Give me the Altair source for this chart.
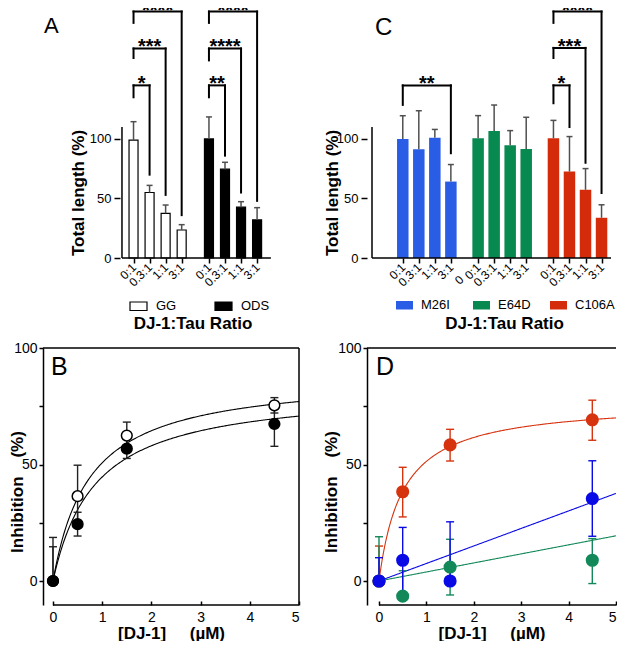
import json
import altair as alt
import pandas as pd

FONT = "Liberation Sans"

# ---------------- panel A : total length, GG vs ODS ----------------
ratio_labels = ["0:1", "0.3:1", "1:1", "3:1"]
a_groups = ["GG", "ODS"]
a_gg_mean = [99.0, 55.0, 37.5, 23.5]
a_gg_err = [114.5, 61.0, 44.5, 28.0]
a_ods_mean = [100.0, 74.6, 42.7, 32.0]
a_ods_err = [118.5, 80.4, 47.3, 42.3]
a_sig_group = ["GG", "GG", "GG", "ODS", "ODS", "ODS"]
a_sig_to = [1, 2, 3, 1, 2, 3]
a_sig_level = [145, 176, 207, 145, 176, 207]
a_sig_left_end = [135, 168, 197.5, 135, 166, 197.5]
a_sig_right_end = [70, 53, 36, 86, 55, 48]
a_sig_stars = ["*", "***", "****", "**", "****", "****"]

# ---------------- panel C : total length, mutants ----------------
c_groups = ["M26I", "E64D", "C106A"]
c_colors = ["#2a5de6", "#07894f", "#d42c0a"]
c_m26i_mean = [100.0, 91.4, 101.0, 64.2]
c_m26i_err = [119.5, 123.7, 108.0, 78.5]
c_e64d_mean = [100.6, 106.7, 94.7, 91.6]
c_e64d_err = [119.6, 128.5, 107.0, 118.2]
c_c106a_mean = [100.6, 72.6, 57.3, 33.8]
c_c106a_err = [115.6, 102.0, 75.1, 44.7]
c_sig_group = ["M26I", "C106A", "C106A", "C106A"]
c_sig_to = [3, 1, 2, 3]
c_sig_level = [145, 145, 176.5, 207]
c_sig_left_end = [128.6, 130, 168, 197.5]
c_sig_right_end = [88, 110, 80, 54.6]
c_sig_stars = ["**", "*", "***", "****"]
c_stray_text = "0"

# ---------------- panel B : inhibition, GG (open) / ODS (filled) ----------------
conc = [0, 0.5, 1.5, 4.5]
b_gg_y = [0, 36.4, 62.4, 75.4]
b_gg_lo = [0, 23.1, 56.6, 72.1]
b_gg_hi = [14.7, 49.7, 68.2, 78.7]
b_ods_y = [0, 24.4, 56.8, 67.4]
b_ods_lo = [0, 19.3, 52.6, 57.8]
b_ods_hi = [18.7, 29.5, 61.0, 77.0]
b_gg_fit = (88.5, 0.745)    # Bmax, Kd
b_ods_fit = (82.9, 0.857)

# ---------------- panel D : inhibition, mutants ----------------
d_series = ["C106A", "M26I", "E64D"]
d_colors = ["#d6330f", "#0a0ae6", "#13895a"]
d_c106a_y = [0, 38.3, 58.4, 69.2]
d_c106a_lo = [0, 27.5, 51.5, 60.4]
d_c106a_hi = [15, 48.8, 65.1, 77.6]
d_m26i_y = [0, 8.9, 0, 35.4]
d_m26i_lo = [0, -5, 0, 19.2]
d_m26i_hi = [10, 23, 25.4, 51.6]
d_e64d_y = [0, -6.5, 6, 8.9]
d_e64d_lo = [0, -6.5, -6, -1.1]
d_e64d_hi = [19, 4.4, 17.9, 18.2]
d_c106a_fit = (77.0, 0.5)   # Bmax, Kd
d_m26i_slope = 7.52
d_e64d_slope = 3.88

# ---------------- layout ----------------
A_W, C_W = 256, 249
TOP_H, BOT_H = 250, 257
GSTEP = 4.7
TOP_YDOM = [0, 210]
BOT_YDOM = [-10.3, 100]


def pos(gi, i):
    return round(gi * GSTEP + i, 2)


def title_style(**kw):
    base = dict(titleFontSize=17, titleFontWeight="bold", titleFont=FONT,
                titleColor="black", titleBaseline="middle", titleAlign="center")
    base.update(kw)
    return base


def bar_panel(key, groups, means, errs, fill_range, bar_stroke, bar_w,
              sig_group, sig_to, sig_level, sig_left, sig_right, sig_stars,
              width, xdom, axis_x, base_end, xtitle_x, ytitle_x,
              legend_x, legend_cols, legend_pad, letter, letter_x, letter_y,
              letter_size, extra=None):
    rows = []
    for gi, g in enumerate(groups):
        for i, lab in enumerate(ratio_labels):
            rows.append(dict(x=pos(gi, i), y=means[gi][i], top=errs[gi][i],
                             **{key: g}, ratio=lab))
    df = pd.DataFrame(rows)
    positions = list(df["x"])
    labels = list(df["ratio"])
    px_per = width / (xdom[1] - xdom[0])
    yoff = -round((axis_x - xdom[0]) * px_per, 1)

    xscale = alt.Scale(domain=xdom, nice=False, zero=False)
    yscale = alt.Scale(domain=TOP_YDOM, nice=False, zero=False)
    xaxis = alt.Axis(values=positions,
                     labelExpr=f"{json.dumps(labels)}[indexof({json.dumps(positions)}, datum.value)]",
                     labelAngle=315, labelAlign="right", labelBaseline="middle",
                     labelOverlap=False, labelBound=False,
                     labelFontSize=12, labelPadding=2, tickSize=5, domain=False,
                     grid=False, title="DJ-1:Tau Ratio",
                     **title_style(titleX=xtitle_x, titleY=65))
    yaxis = alt.Axis(values=[0, 50, 100], offset=yoff, domain=False, tickSize=6,
                     labelPadding=3, labelFontSize=13, grid=False,
                     title="Total length (%)",
                     **title_style(titleX=ytitle_x, titleY=184.5, titleAngle=270))

    def X(f="x"):
        return alt.X(f"{f}:Q", scale=xscale, axis=xaxis)

    def Y(f="y"):
        return alt.Y(f"{f}:Q", scale=yscale, axis=yaxis)

    legend = alt.Legend(orient="none", legendX=legend_x, legendY=288.5,
                        direction="horizontal", title=None, columns=legend_cols,
                        columnPadding=legend_pad, gridAlign="all", padding=0,
                        symbolType="M-1,-0.5H1V0.5H-1Z", symbolSize=289,
                        symbolStrokeColor="black" if bar_stroke else "transparent",
                        symbolStrokeWidth=1.2 if bar_stroke else 0,
                        symbolOpacity=1,
                        labelFontSize=13, labelFont=FONT, labelColor="black",
                        labelOffset=8)

    bar_kw = dict(orient="vertical", width=bar_w, opacity=1)
    if bar_stroke:
        bar_kw.update(stroke="black", strokeWidth=1.2)
    bars = alt.Chart(df).mark_bar(**bar_kw).encode(
        x=X(), y=Y(),
        fill=alt.Fill(f"{key}:N", scale=alt.Scale(domain=groups, range=fill_range),
                      legend=legend))
    err = alt.Chart(df).mark_rule(color="#505050", strokeWidth=1.5).encode(
        x=X(), y=Y(), y2=alt.Y2("top:Q"))
    caps = alt.Chart(df).mark_tick(orient="horizontal", color="#505050", size=6,
                                   thickness=1.5, opacity=1).encode(x=X(), y=Y("top"))

    # axis lines
    frame = pd.DataFrame([
        dict(x=axis_x, x2=axis_x, y=0, y2=110),
        dict(x=axis_x, x2=base_end, y=0, y2=0),
    ])
    axis_lines = alt.Chart(frame).mark_rule(color="black", strokeWidth=1.5).encode(
        x=X(), x2=alt.X2("x2:Q"), y=Y(), y2=alt.Y2("y2:Q"))

    # significance brackets
    segs, stars = [], []
    for g, t, lv, le, re, s in zip(sig_group, sig_to, sig_level, sig_left,
                                   sig_right, sig_stars):
        gi = groups.index(g)
        x0, x1 = pos(gi, 0), pos(gi, t)
        segs += [dict(x=x0, x2=x1, y=lv, y2=lv),
                 dict(x=x0, x2=x0, y=lv, y2=le),
                 dict(x=x1, x2=x1, y=lv, y2=re)]
        stars.append(dict(x=(x0 + x1) / 2, y=lv, s=s))
    br = alt.Chart(pd.DataFrame(segs)).mark_rule(
        color="black", strokeWidth=2, strokeCap="square", clip=True).encode(
        x=X(), x2=alt.X2("x2:Q"), y=Y(), y2=alt.Y2("y2:Q"))
    st = alt.Chart(pd.DataFrame(stars)).mark_text(
        fontSize=20, fontWeight="bold", font=FONT, baseline="alphabetic",
        dy=5, color="black", clip=True).encode(x=X(), y=Y(), text="s:N")

    let = alt.Chart(pd.DataFrame({"t": [letter]})).mark_text(
        align="left", baseline="alphabetic", fontSize=letter_size, font=FONT,
        color="black").encode(text="t:N", x=alt.value(letter_x), y=alt.value(letter_y))

    layers = [bars, err, caps, axis_lines, br, st, let]
    if extra is not None:
        ex = alt.Chart(pd.DataFrame([extra])).mark_text(
            angle=315, fontSize=12, font=FONT, color="black").encode(
            x=X(), y=Y(), text="t:N")
        layers.append(ex)
    return alt.layer(*layers).properties(width=width, height=TOP_H)


chart_a = bar_panel(
    "protein_a", a_groups, [a_gg_mean, a_ods_mean], [a_gg_err, a_ods_err],
    ["white", "black"],
    True, 9, a_sig_group, a_sig_to, a_sig_level, a_sig_left_end, a_sig_right_end,
    a_sig_stars, A_W, [-5.33, 10.0], -0.72, 8.56, 149.5, -42,
    86, 2, 27, "A", 1, 25, 22)

chart_c = bar_panel(
    "protein_c", c_groups, [c_m26i_mean, c_e64d_mean, c_c106a_mean],
    [c_m26i_err, c_e64d_err, c_c106a_err], c_colors, False, 11.5,
    c_sig_group, c_sig_to, c_sig_level, c_sig_left_end, c_sig_right_end,
    c_sig_stars, C_W, [-1.92, 12.99], -1.92, 12.99, 137, -34.5,
    29, 3, 12, "C", 8, 27, 24,
    extra=dict(x=pos(0, 3) + 0.53, y=-18.5, t=c_stray_text))


def curve_panel(series, width, xdom, ytitle_x, letter, letter_x, right_border):
    xscale = alt.Scale(domain=xdom, nice=False, zero=False)
    yscale = alt.Scale(domain=BOT_YDOM, nice=False, zero=False)
    xaxis = alt.Axis(values=[0, 1, 2, 3, 4, 5], format="d", offset=-4, domain=False,
                     tickSize=4, labelPadding=5, labelFontSize=14, grid=False,
                     title="[DJ-1]\u00a0\u00a0\u00a0\u00a0\u00a0(\u00b5M)",
                     **title_style(titleY=32))
    yaxis = alt.Axis(values=[0, 25, 50, 75, 100],
                     labelExpr="datum.value % 50 == 0 ? datum.label : ''",
                     domain=True, tickSize=4, labelPadding=2, labelFontSize=14,
                     grid=False, title="Inhibition\u00a0\u00a0\u00a0\u00a0(%)",
                     **title_style(titleX=ytitle_x, titleY=143.5, titleAngle=270))

    def X(f="x"):
        return alt.X(f"{f}:Q", scale=xscale, axis=xaxis)

    def Y(f="y"):
        return alt.Y(f"{f}:Q", scale=yscale, axis=yaxis)

    layers = []
    # fitted curves
    for s in series:
        expr = s["fit"]
        layers.append(
            alt.Chart(alt.sequence(0, 5.001, 0.02, as_="x"))
            .transform_calculate(y=expr)
            .mark_line(color=s["line"], strokeWidth=1.1, clip=True)
            .encode(x=X(), y=Y()))
    # error bars
    for s in series:
        df = pd.DataFrame(dict(x=conc, y=s["y"], lo=s["lo"], hi=s["hi"]))
        layers.append(alt.Chart(df).mark_rule(color=s["err"], strokeWidth=1.4).encode(
            x=X(), y=Y("lo"), y2=alt.Y2("hi:Q")))
        caps = pd.DataFrame(dict(x=conc + conc, y=s["lo"] + s["hi"]))
        layers.append(alt.Chart(caps).mark_tick(
            orient="horizontal", color=s["err"], size=8, thickness=1.4,
            opacity=1).encode(x=X(), y=Y()))
    # points
    for s in series:
        df = pd.DataFrame(dict(x=conc, y=s["y"]))
        layers.append(alt.Chart(df).mark_point(
            shape="circle", filled=True, fill=s["fill"], stroke=s["stroke"],
            strokeWidth=1.5, size=s["size"], opacity=1).encode(x=X(), y=Y()))
    # frame
    layers.append(alt.Chart(pd.DataFrame({"a": [0]})).mark_rule(
        color="black", strokeWidth=1.5).encode(y=alt.value(0)))
    if right_border:
        layers.append(alt.Chart(pd.DataFrame({"a": [0]})).mark_rule(
            color="black", strokeWidth=1.5).encode(x=alt.value(width)))
    layers.append(alt.Chart(pd.DataFrame({"x": [0], "x2": [5]})).mark_rule(
        color="black", strokeWidth=1.5).encode(
        x=X(), x2=alt.X2("x2:Q"), y=alt.value(BOT_H)))
    layers.append(alt.Chart(pd.DataFrame({"t": [letter]})).mark_text(
        align="left", baseline="alphabetic", fontSize=25, font=FONT,
        color="black").encode(text="t:N", x=alt.value(letter_x), y=alt.value(27)))
    return alt.layer(*layers).properties(width=width, height=BOT_H)


def hyper(p):
    return f"{p[0]}*datum.x/({p[1]}+datum.x)"


chart_b = curve_panel([
    dict(y=b_gg_y, lo=b_gg_lo, hi=b_gg_hi, fit=hyper(b_gg_fit), line="black",
         err="#222222", fill="white", stroke="black", size=115),
    dict(y=b_ods_y, lo=b_ods_lo, hi=b_ods_hi, fit=hyper(b_ods_fit), line="black",
         err="#222222", fill="black", stroke="black", size=115),
], A_W, [-0.203, 5], -25.5, "B", 8, True)

chart_d = curve_panel([
    dict(y=d_c106a_y, lo=d_c106a_lo, hi=d_c106a_hi, fit=hyper(d_c106a_fit),
         line=d_colors[0], err=d_colors[0], fill=d_colors[0], stroke=d_colors[0], size=135),
    dict(y=d_e64d_y, lo=d_e64d_lo, hi=d_e64d_hi, fit=f"{d_e64d_slope}*datum.x",
         line=d_colors[2], err=d_colors[2], fill=d_colors[2], stroke=d_colors[2], size=135),
    dict(y=d_m26i_y, lo=d_m26i_lo, hi=d_m26i_hi, fit=f"{d_m26i_slope}*datum.x",
         line=d_colors[1], err=d_colors[1], fill=d_colors[1], stroke=d_colors[1], size=135),
], C_W, [-0.253, 5], -36, "D", 9, False)

chart = alt.concat(
    chart_a, chart_c, chart_b, chart_d, columns=2,
    spacing={"row": 90, "column": 68}, bounds="flush",
).resolve_scale(
    fill="independent", x="independent", y="independent"
).resolve_legend(fill="independent").properties(padding=0).configure(
    font=FONT
).configure_view(
    stroke=None
).configure_axis(
    labelColor="black", titleColor="black", domainColor="black", tickColor="black",
    domainWidth=1.5, tickWidth=1.5, labelFont=FONT, titleFont=FONT,
)

chart.save("out.html", embed_options={"renderer": "svg", "actions": False})
